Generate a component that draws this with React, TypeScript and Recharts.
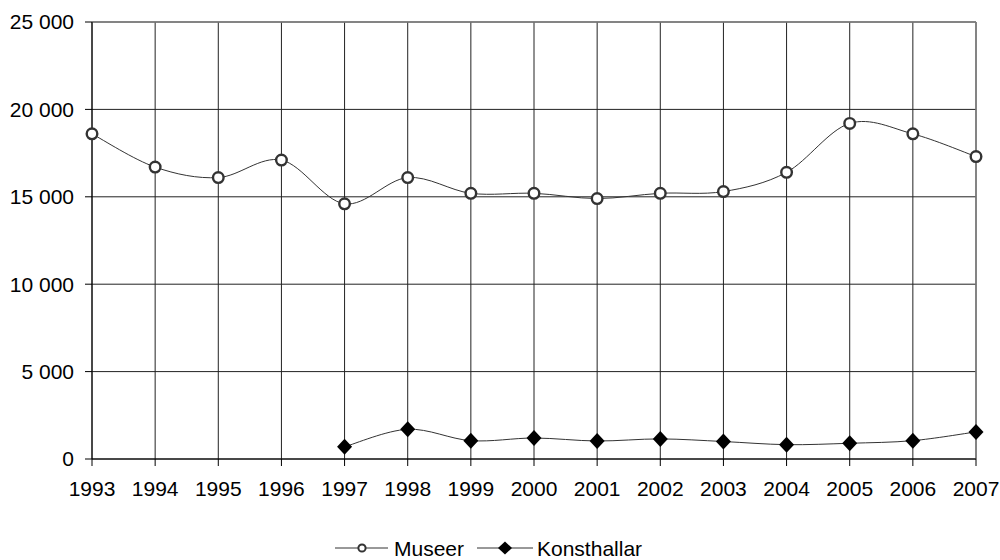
import React from "react";
import {
  LineChart, Line, XAxis, YAxis, CartesianGrid, Legend, ReferenceLine,
} from "recharts";

const years = [
  "1993", "1994", "1995", "1996", "1997", "1998", "1999", "2000",
  "2001", "2002", "2003", "2004", "2005", "2006", "2007",
];
const museer = [
  18600, 16700, 16100, 17100, 14600, 16100, 15200, 15200,
  14900, 15200, 15300, 16400, 19200, 18600, 17300,
];
const konsthallar = [
  null, null, null, null, 700, 1700, 1050, 1200,
  1030, 1150, 1000, 820, 900, 1050, 1550,
];
const yTicks = [0, 5000, 10000, 15000, 20000, 25000];

const data = years.map((year, i) => ({
  year,
  museer: museer[i],
  konsthallar: konsthallar[i],
}));

const FONT = '"Liberation Sans", Arial, sans-serif';

// Excel-like smoothing (Catmull-Rom through the points)
const smoothCurve = (context: any) => {
  let pts: number[][] = [];
  return {
    areaStart() {},
    areaEnd() {},
    lineStart() {
      pts = [];
    },
    point(x: number, y: number) {
      pts.push([+x, +y]);
    },
    lineEnd() {
      if (!pts.length) return;
      context.moveTo(pts[0][0], pts[0][1]);
      if (pts.length === 1) {
        context.lineTo(pts[0][0], pts[0][1]);
        return;
      }
      for (let i = 0; i < pts.length - 1; i++) {
        const p0 = pts[i - 1] || pts[i];
        const p1 = pts[i];
        const p2 = pts[i + 1];
        const p3 = pts[i + 2] || p2;
        context.bezierCurveTo(
          p1[0] + (p2[0] - p0[0]) / 6,
          p1[1] + (p2[1] - p0[1]) / 6,
          p2[0] - (p3[0] - p1[0]) / 6,
          p2[1] - (p3[1] - p1[1]) / 6,
          p2[0],
          p2[1]
        );
      }
    },
  };
};

const fmt = (v: number) => String(v).replace(/\B(?=(\d{3})+(?!\d))/g, " ");

const CircleDot = (props: any) => {
  const { cx, cy, index } = props;
  if (cx == null || cy == null) return <g key={`c-${index}`} />;
  return (
    <circle key={`c-${index}`} cx={cx} cy={cy} r={5.3} fill="#fff" stroke="#333" strokeWidth={2.4} />
  );
};

const DiamondDot = (props: any) => {
  const { cx, cy, index, value } = props;
  if (cx == null || cy == null || value == null) return <g key={`d-${index}`} />;
  return (
    <path
      key={`d-${index}`}
      d={`M${cx},${cy - 8} L${cx + 7.5},${cy} L${cx},${cy + 8} L${cx - 7.5},${cy} Z`}
      fill="#000"
    />
  );
};

const LegendContent = () => (
  <svg width={1000} height={28} style={{ display: "block" }}>
    <g fontFamily={FONT} fontSize={21} fill="#000">
      <line x1={335} y1={14} x2={388} y2={14} stroke="#333" strokeWidth={1} />
      <circle cx={362} cy={14} r={3.6} fill="#fff" stroke="#333" strokeWidth={2} />
      <text x={394} y={21.5}>Museer</text>
      <line x1={477} y1={14} x2={533} y2={14} stroke="#333" strokeWidth={1} />
      <path d="M505,7.5 L512,14 L505,20.5 L498,14 Z" fill="#000" />
      <text x={537} y={21.5}>Konsthallar</text>
    </g>
  </svg>
);

export default function App() {
  return (
    <div style={{ position: "absolute", left: 0, top: 0, width: 1000, height: 560, background: "#fff" }}>
      <LineChart
        width={1000}
        height={560}
        data={data}
        margin={{ top: 22, right: 24, left: 0, bottom: 43 }}
      >
        <CartesianGrid stroke="#222" strokeWidth={1} />
        <ReferenceLine y={25000} stroke="#808080" strokeWidth={1.5} />
        <ReferenceLine x="2007" stroke="#808080" strokeWidth={1.5} />
        <XAxis
          dataKey="year"
          interval={0}
          axisLine={{ stroke: "#000" }}
          tickLine={{ stroke: "#000" }}
          tickSize={7}
          tickMargin={15}
          tick={{ fill: "#000", fontSize: 21, fontFamily: FONT }}
        />
        <YAxis
          domain={[0, 25000]}
          ticks={yTicks}
          width={92}
          interval={0}
          tickFormatter={fmt}
          axisLine={{ stroke: "#000" }}
          tickLine={{ stroke: "#000" }}
          tickSize={7}
          tickMargin={11}
          tick={{ fill: "#000", fontSize: 21, fontFamily: FONT }}
        />
        <Legend
          verticalAlign="bottom"
          content={<LegendContent />}
          wrapperStyle={{ top: 534, left: 0, width: 1000, height: 28 }}
        />
        <Line
          dataKey="museer"
          type={smoothCurve as any}
          stroke="#333"
          strokeWidth={1}
          dot={<CircleDot />}
          activeDot={false}
          isAnimationActive={false}
        />
        <Line
          dataKey="konsthallar"
          type={smoothCurve as any}
          stroke="#333"
          strokeWidth={1}
          dot={<DiamondDot />}
          activeDot={false}
          isAnimationActive={false}
        />
      </LineChart>
    </div>
  );
}
